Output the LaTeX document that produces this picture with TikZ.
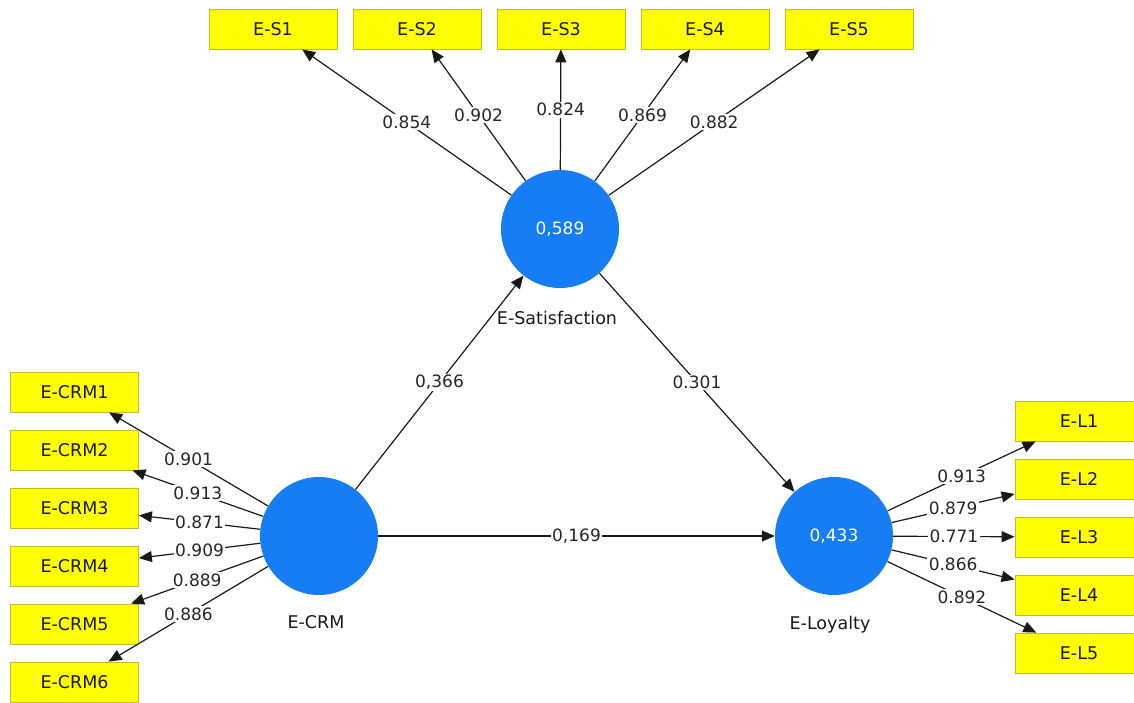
\documentclass[tikz,border=0pt]{standalone}
\usepackage{fontspec}
\setmainfont{DejaVu Sans}
\usetikzlibrary{arrows.meta,positioning}
\definecolor{lvblue}{RGB}{22,125,245}
\definecolor{indyellow}{RGB}{255,255,0}
\definecolor{indborder}{RGB}{190,190,40}
\tikzset{>={Triangle[length=13pt,width=11pt]}}
\tikzset{
  indicator/.style={draw=indborder,fill=indyellow,line width=0.8pt,minimum width=128pt,minimum height=40pt,inner sep=0pt,font=\fontsize{17.5}{19}\selectfont,text=black!90},
  latent/.style={circle,fill=lvblue,minimum size=118pt,inner sep=0pt,text=white,font=\fontsize{17}{19}\selectfont},
  loading/.style={fill=white,inner sep=1.5pt,font=\fontsize{17}{19}\selectfont,text=black!85},
  lvname/.style={font=\fontsize{17.5}{19}\selectfont,text=black!90},
  path/.style={->,draw=black!90,line width=1.2pt}
}
\begin{document}
\begin{tikzpicture}[x=1pt,y=-1pt]
  \useasboundingbox (0,0) rectangle (1134,702);
  \node[latent] (sat) at (560,229) {0,589};
  \node[latent] (crm) at (319,536) {};
  \node[latent] (loy) at (834,536) {0,433};
  \node[lvname,below=19pt of sat,xshift=-3pt] (satname) {E-Satisfaction};
  \node[lvname,below=17pt of crm,xshift=-3pt] (crmname) {E-CRM};
  \node[lvname,below=17pt of loy,xshift=-4pt] (loyname) {E-Loyalty};
  % outer model
  \foreach \i/\x/\w in {1/273/0.854,2/417/0.902,3/561/0.824,4/705/0.869,5/849/0.882}{
    \node[indicator] (s\i) at (\x,29) {E-S\i};
    \draw[path] (sat) -- node[loading]{\w} (s\i);
  }
  \foreach \i/\y/\w in {1/392/0.901,2/450/0.913,3/508/0.871,4/566/0.909,5/624/0.889,6/682/0.886}{
    \node[indicator] (c\i) at (74.5,\y) {E-CRM\i};
    \draw[path] (crm) -- node[loading]{\w} (c\i);
  }
  \foreach \i/\y/\w in {1/421/0.913,2/479/0.879,3/537/0.771,4/595/0.866,5/653/0.892}{
    \node[indicator] (l\i) at (1079,\y) {E-L\i};
    \draw[path] (loy) -- node[loading]{\w} (l\i);
  }
  % inner model
  \draw[path] (crm) -- node[loading]{0,366} (sat);
  \draw[path] (sat) -- node[loading]{0.301} (loy);
  \draw[path] (crm) -- node[loading]{0,169} (loy);
\end{tikzpicture}
\end{document}
